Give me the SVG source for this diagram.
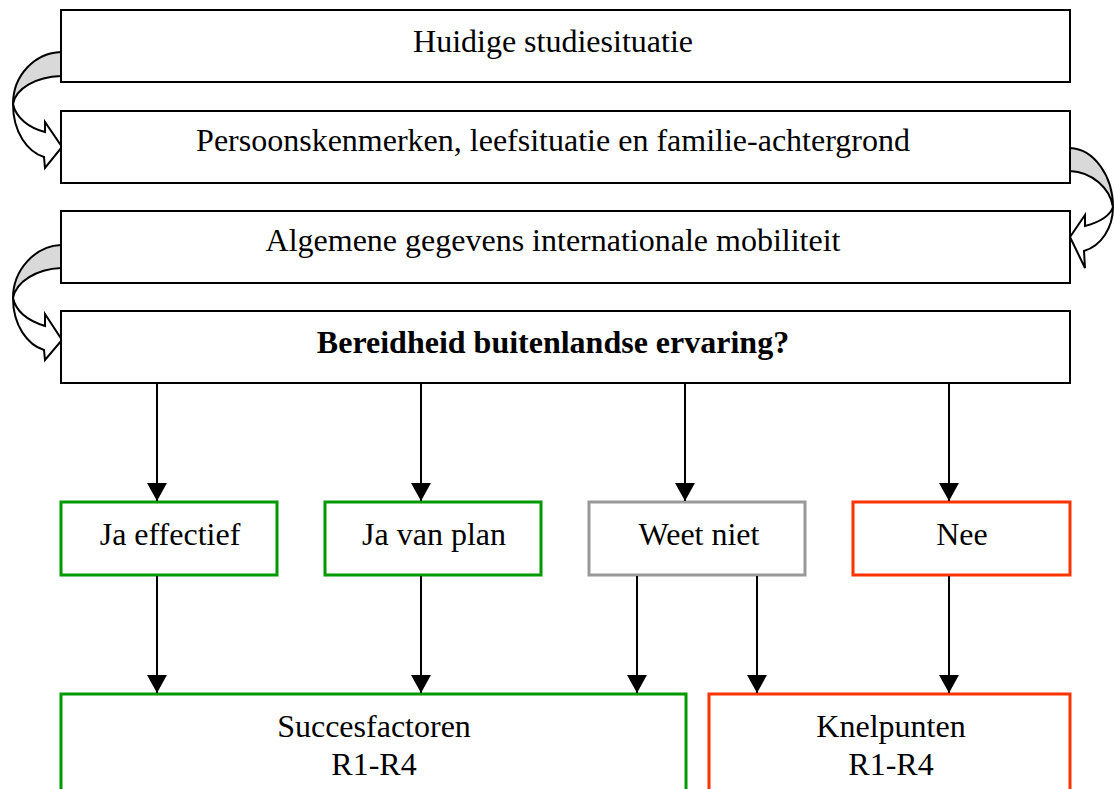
<svg xmlns="http://www.w3.org/2000/svg" width="1114" height="789" viewBox="0 0 1114 789">
<defs>
<style>
.box{fill:#fff;stroke:#000;stroke-width:2}
.g{fill:#fff;stroke:#009900;stroke-width:3}
.gr{fill:#fff;stroke:#999999;stroke-width:3}
.r{fill:#fff;stroke:#ff3300;stroke-width:3}
.t{font-family:"Liberation Serif","Times New Roman",serif;font-size:32px;fill:#000;text-anchor:middle}
.b{font-weight:bold}
.c{stroke:#000;stroke-width:2;fill:none;marker-end:url(#ah)}
.cg{fill:#d9d9d9;stroke:#000;stroke-width:2;stroke-linejoin:round}
.cw{fill:#fff;stroke:#000;stroke-width:2;stroke-linejoin:miter}
</style>
<marker id="ah" markerWidth="18" markerHeight="20" refX="18" refY="10" orient="auto" markerUnits="userSpaceOnUse" viewBox="0 0 18 20">
<path d="M0,0 L18,10 L0,20 Z" fill="#000"/>
</marker>
</defs>
<g id="curved-arrows">
<path class="cg" d="M61,52 C35,53 13,75 13,104 C16,88 36,77 61,76 Z"/>
<path class="cw" d="M13,104 C13,133 28,152 44,157 L45,168 L62,147 L45,122 L45,132 C29,128 16,118 13,104 Z"/>
<path class="cg" d="M1070,148 C1094,149 1113,176 1113,207 C1110,188 1092,172 1070,171 Z"/>
<path class="cw" d="M1113,207 C1113,228 1101,246 1084,251 L1085,268 L1070,237 L1085,215 L1085,226 C1100,222 1110,216 1113,207 Z"/>
<path class="cg" d="M61,245 C35,246 13,270 13,298 C16,282 36,269 61,268 Z"/>
<path class="cw" d="M13,298 C13,326 28,345 44,350 L45,360 L62,340 L45,314 L45,326 C29,321 16,312 13,298 Z"/>
</g>
<g id="n1"><rect class="box" x="61" y="10" width="1009" height="72"/><text class="t" x="553" y="52">Huidige studiesituatie</text></g>
<g id="n2"><rect class="box" x="61" y="111" width="1009" height="72"/><text class="t" x="553" y="151">Persoonskenmerken, leefsituatie en familie-achtergrond</text></g>
<g id="n3"><rect class="box" x="61" y="211" width="1009" height="72"/><text class="t" x="553" y="251">Algemene gegevens internationale mobiliteit</text></g>
<g id="n4"><rect class="box" x="61" y="311" width="1009" height="72"/><text class="t b" x="553" y="353">Bereidheid buitenlandse ervaring?</text></g>
<g id="n5"><rect class="g" x="61" y="502" width="216" height="73"/><text class="t" x="170" y="545">Ja effectief</text></g>
<g id="n6"><rect class="g" x="325" y="502" width="216" height="73"/><text class="t" x="434" y="545">Ja van plan</text></g>
<g id="n7"><rect class="gr" x="589" y="502" width="216" height="73"/><text class="t" x="699" y="545">Weet niet</text></g>
<g id="n8"><rect class="r" x="853" y="502" width="217" height="73"/><text class="t" x="962" y="545">Nee</text></g>
<g id="n9"><rect class="g" x="61" y="694" width="625" height="110"/><text class="t" x="374" y="737">Succesfactoren</text><text class="t" x="374" y="775">R1-R4</text></g>
<g id="n10"><rect class="r" x="709" y="694" width="361" height="110"/><text class="t" x="891" y="737">Knelpunten</text><text class="t" x="891" y="775">R1-R4</text></g>
<g id="connectors">
<line class="c" x1="157" y1="384" x2="157" y2="501"/>
<line class="c" x1="421" y1="384" x2="421" y2="501"/>
<line class="c" x1="685" y1="384" x2="685" y2="501"/>
<line class="c" x1="949" y1="384" x2="949" y2="501"/>
<line class="c" x1="157" y1="576" x2="157" y2="693"/>
<line class="c" x1="421" y1="576" x2="421" y2="693"/>
<line class="c" x1="637" y1="576" x2="637" y2="693"/>
<line class="c" x1="757" y1="576" x2="757" y2="693"/>
<line class="c" x1="949" y1="576" x2="949" y2="693"/>
</g>
</svg>
